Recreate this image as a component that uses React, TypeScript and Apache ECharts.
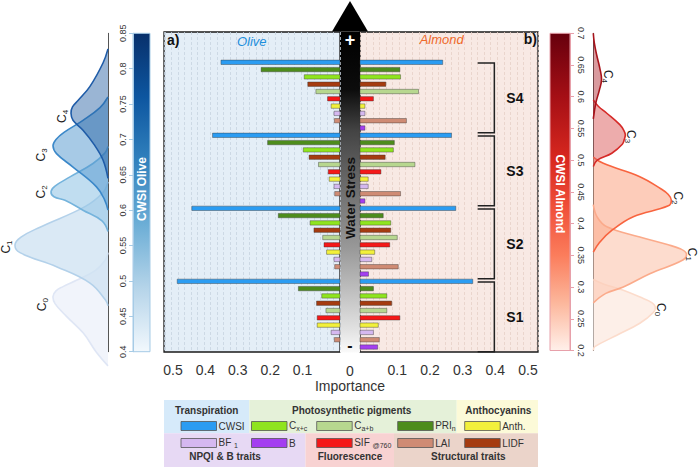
import React, { useEffect, useRef } from 'react';
import * as echarts from 'echarts';

const FF = 'Liberation Sans, Arial, sans-serif';

// ---------- data ----------
const traits = ['CWSI', 'PRIn', 'Cx+c', 'LIDF', 'Ca+b', 'SIF@760', 'Anth.', 'BF1', 'LAI', 'B'];
const stages = ['S4', 'S3', 'S2', 'S1'];

const oliveS4 = [0.352, 0.228, 0.095, 0.084, 0.059, 0.023, 0.012, 0.003, 0.002, 0];
const oliveS3 = [0.378, 0.208, 0.098, 0.080, 0.051, 0.021, 0.018, 0.003, 0.001, 0];
const oliveS2 = [0.442, 0.175, 0.077, 0.065, 0.038, 0.034, 0.026, 0.003, 0.001, 0];
const oliveS1 = [0.487, 0.113, 0.041, 0.057, 0.028, 0.055, 0.055, 0.012, 0.002, 0];

const almondS4 = [0.239, 0.108, 0.110, 0.065, 0.165, 0.027, 0.001, 0.001, 0.128, 0.001];
const almondS3 = [0.266, 0.091, 0.088, 0.063, 0.154, 0.050, 0.011, 0.011, 0.110, 0.001];
const almondS2 = [0.279, 0.057, 0.080, 0.080, 0.100, 0.077, 0.031, 0.022, 0.103, 0.012];
const almondS1 = [0.331, 0.027, 0.068, 0.083, 0.068, 0.108, 0.042, 0.027, 0.045, 0.040];

const oliveImportance = [oliveS4, oliveS3, oliveS2, oliveS1];
const almondImportance = [almondS4, almondS3, almondS2, almondS1];
const importanceTicks = [0.1, 0.2, 0.3, 0.4, 0.5];

const clusters = ['0', '1', '2', '3', '4'];
// [CWSI, density]
const oliveC0 = [[0.38, 0], [0.40, 2.4], [0.426, 4.9], [0.45, 8.3], [0.468, 10.6], [0.478, 11.0], [0.486, 10.4], [0.492, 9], [0.501, 6.3], [0.515, 2.5], [0.53, 0.5], [0.54, 0]];
const oliveC1 = [[0.465, 0], [0.473, 0.5], [0.497, 3.6], [0.52, 10.3], [0.54, 17.6], [0.551, 18.6], [0.562, 17.4], [0.576, 13.6], [0.605, 4.6], [0.625, 1], [0.64, 0]];
const oliveC2 = [[0.57, 0], [0.585, 1.2], [0.60, 5], [0.614, 8.6], [0.619, 10.8], [0.626, 11.4], [0.634, 10.6], [0.647, 7.6], [0.666, 3], [0.681, 0.6], [0.69, 0]];
const oliveC3 = [[0.60, 0], [0.615, 0.7], [0.633, 2.3], [0.661, 7], [0.68, 10.3], [0.691, 11], [0.70, 10.4], [0.71, 8.8], [0.727, 5], [0.745, 1.6], [0.76, 0]];
const oliveC4 = [[0.645, 0], [0.671, 1], [0.693, 2.8], [0.713, 5], [0.727, 7.0], [0.737, 7.4], [0.746, 7.1], [0.755, 6], [0.775, 3.6], [0.808, 1], [0.828, 0]];

const almondC0 = [[0.20, 0], [0.206, 0.3], [0.224, 4.7], [0.243, 9.3], [0.26, 12], [0.269, 12.4], [0.276, 11.6], [0.282, 10], [0.295, 6], [0.305, 2], [0.312, 0]];
const almondC1 = [[0.275, 0], [0.29, 2.5], [0.30, 6], [0.321, 11.3], [0.343, 18], [0.353, 18.6], [0.36, 17.5], [0.367, 14.8], [0.379, 9.3], [0.395, 2.7], [0.41, 0.8], [0.43, 0]];
const almondC2 = [[0.355, 0], [0.37, 1.2], [0.39, 3.8], [0.411, 8], [0.428, 15], [0.437, 15.6], [0.446, 15], [0.455, 13.5], [0.474, 9.3], [0.495, 2], [0.505, 0]];
const almondC3 = [[0.49, 0], [0.50, 0.8], [0.511, 3.7], [0.525, 5.8], [0.533, 6.2], [0.54, 6.4], [0.547, 6.1], [0.556, 5.3], [0.574, 2.7], [0.585, 1], [0.595, 0]];
const almondC4 = [[0.565, 0], [0.59, 0.5], [0.61, 1.2], [0.627, 1.65], [0.645, 1.3], [0.665, 0.7], [0.685, 0.2], [0.70, 0]];

const oliveDensities = [oliveC0, oliveC1, oliveC2, oliveC3, oliveC4];
const almondDensities = [almondC0, almondC1, almondC2, almondC3, almondC4];

// ---------- styles ----------
const traitColors = ['#2b9cf2', '#4d8c1c', '#8fe41f', '#a53b10', '#b7d78f', '#f41818', '#f2f03c', '#d5b8f0', '#cf8b74', '#a43ff0'];
const traitLegendText = ['{m|CWSI}', '{m|PRI}{s|n}{z| }', '{m|C}{s|x+c}{z| }', '{m|LIDF}', '{m|C}{s|a+b}{z| }', '{m|SIF }{s|@760}{z| }', '{m|Anth.}', '{m|BF }{s|1}{z| }', '{m|LAI}', '{m|B}'];
const oliveFill = ['rgba(236,240,250,0.75)', 'rgba(205,225,241,0.75)', 'rgba(150,198,230,0.6)', 'rgba(80,150,205,0.5)', 'rgba(30,90,160,0.45)'];
const oliveStroke = ['#dfe6f5', '#b3d1ea', '#74b3dc', '#3b88c9', '#1f5ca8'];
const almondFill = ['rgba(253,235,226,0.8)', 'rgba(252,205,185,0.7)', 'rgba(251,170,140,0.6)', 'rgba(220,90,90,0.5)', 'rgba(170,30,40,0.45)'];
const almondStroke = ['#fcdccc', '#fbab8b', '#f8643f', '#d62a28', '#a8131b'];
const oliveLabelOff = [[-10, 8], [-8, 2], [-9, 0], [-11, 9], [-8, 3]];
const almondLabelOff = [[5, 3], [5, 1], [6, -2], [5, 2], [6, -3]];

const subRich = (size: number, color = '#222') => ({
  m: { fontSize: size, lineHeight: size, verticalAlign: 'top', fontFamily: FF, fill: color, color },
  s: { fontSize: Math.round(size * 0.7), lineHeight: 3, verticalAlign: 'bottom', fontFamily: FF, fill: color, color },
  z: { fontSize: 1, lineHeight: size + 1.5, fontFamily: FF, fill: color, color },
});

function barSeries(values: number[][], gridIdx: number, side: 'left' | 'right') {
  const data: number[][] = [];
  values.forEach((grp, g) => grp.forEach((v, t) => data.push([v, g * 10 + t, t])));
  return {
    type: 'custom',
    xAxisIndex: gridIdx === 0 ? 0 : 2,
    yAxisIndex: gridIdx,
    data,
    encode: { x: 0, y: 1 },
    renderItem: (params: any, api: any) => {
      const v = api.value(0);
      const r = api.value(1);
      const t = api.value(2);
      if (!(v > 0)) return null;
      const cs = params.coordSys;
      const end = api.coord([v, r]);
      const edge = side === 'left' ? cs.x + cs.width : cs.x;
      const h = api.size([0, 1])[1] * 0.6;
      return {
        type: 'rect',
        shape: { x: Math.min(edge, end[0]), y: end[1] - h / 2, width: Math.abs(end[0] - edge), height: h },
        style: { fill: traitColors[t], stroke: 'rgba(50,50,50,0.5)', lineWidth: 0.8 },
      };
    },
  };
}

function densitySeries(pts: number[][], k: number, xIdx: number, yIdx: number, fill: string, stroke: string, off: number[], rot: number) {
  return {
    type: 'custom',
    xAxisIndex: xIdx,
    yAxisIndex: yIdx,
    data: pts,
    encode: { x: 1, y: 0 },
    renderItem: (params: any, api: any) => {
      if (params.dataIndex !== 0) return null;
      const P = pts.map((p) => api.coord([p[1], p[0]]));
      const pk = pts.reduce((a, b) => (b[1] > a[1] ? b : a));
      const pc = api.coord([pk[1], pk[0]]);
      return {
        type: 'group',
        children: [
          { type: 'polyline', shape: { points: P, smooth: 0.4 }, style: { fill, stroke, lineWidth: 1.6 } },
          {
            type: 'text',
            x: pc[0] + off[0],
            y: pc[1] + off[1],
            rotation: rot,
            style: { text: `{m|C}{s|${clusters[k]}}{z| }`, rich: subRich(12), align: 'center', verticalAlign: 'middle', textAlign: 'center', textVerticalAlign: 'middle' },
          },
        ],
      };
    },
  };
}

const bracketX = [0.346, 0.397];
const stageLabelX = 0.46;

function bracketSeries() {
  return {
    type: 'custom',
    xAxisIndex: 2,
    yAxisIndex: 1,
    data: stages.map((_, g) => [0.37, g * 10 + 5]),
    renderItem: (params: any, api: any) => {
      const g = params.dataIndex;
      const top = g * 10 + 0.08;
      const bot = g * 10 + 9.66;
      const a = api.coord([bracketX[0], top]);
      const b = api.coord([bracketX[1], top]);
      const c = api.coord([bracketX[1], bot]);
      const d = api.coord([bracketX[0], bot]);
      const m = api.coord([stageLabelX, (top + bot) / 2]);
      return {
        type: 'group',
        children: [
          { type: 'polyline', shape: { points: [a, b, c, d] }, style: { stroke: '#222', lineWidth: 1.5, fill: 'none' } },
          {
            type: 'text', x: m[0], y: m[1],
            style: { text: stages[g], fontSize: 14, fontWeight: 'bold', fontFamily: FF, fill: '#111', align: 'center', verticalAlign: 'middle', textAlign: 'center', textVerticalAlign: 'middle' },
          },
        ],
      };
    },
  };
}

function txt(x: number, y: number, text: string, o: any = {}) {
  return {
    type: 'text', x, y, rotation: o.rotation || 0, z: 20,
    style: {
      text, fill: o.color || '#222', fontSize: o.size || 12, fontWeight: o.weight || 'normal', fontStyle: o.fstyle || 'normal',
      fontFamily: FF, align: o.align || 'center', verticalAlign: 'middle', textAlign: o.align || 'center', textVerticalAlign: 'middle',
      rich: o.rich,
    },
  };
}

function grad(stops: [number, string][]) {
  return { type: 'linear', x: 0, y: 0, x2: 0, y2: 1, colorStops: stops.map(([offset, color]) => ({ offset, color })) };
}

// legend layout
const legendBoxes = [
  { title: 'Transpiration', bg: '#d6eafa', x0: 164, x1: 249.3, y0: 400, y1: 433.3, tx: 206.7, ty: 410.5 },
  { title: 'Photosynthetic pigments', bg: '#e5f1d9', x0: 249.3, x1: 456.7, y0: 400, y1: 433.3, tx: 351.7, ty: 410.5 },
  { title: 'Anthocyanins', bg: '#fcfad8', x0: 456.7, x1: 538, y0: 400, y1: 433.3, tx: 498.3, ty: 410.5 },
  { title: 'NPQI & B traits', bg: '#e7d9f4', x0: 164, x1: 305.5, y0: 433.3, y1: 467, tx: 225, ty: 456 },
  { title: 'Fluorescence', bg: '#f8d2d2', x0: 305.5, x1: 394, y0: 433.3, y1: 467, tx: 350, ty: 456 },
  { title: 'Structural traits', bg: '#ebd4ca', x0: 394, x1: 538, y0: 433.3, y1: 467, tx: 468.3, ty: 456 },
];
const legendRows = [[0, 2, 4, 1, 6], [7, 9, 5, 8, 3]];
const legendCols = [181, 251.5, 316.7, 397.7, 464.7];
const legendRowY = [426, 443];

function buildGraphic() {
  const els: any[] = [];
  // arrow & center bar
  els.push({ type: 'polygon', shape: { points: [[332, 31.5], [368, 31.5], [350, 1]] }, style: { fill: '#000' } });
  els.push({
    type: 'rect', shape: { x: 340, y: 31.5, width: 20, height: 321 },
    style: { fill: grad([[0, '#000'], [0.18, '#0c0c0c'], [0.31, '#444'], [0.68, '#9a9a9a'], [0.93, '#e2e2e2'], [1, '#fafafa']]) },
  });
  els.push(txt(350, 40, '+', { color: '#fff', size: 18, weight: 'bold' }));
  els.push(txt(350, 345, '-', { color: '#111', size: 16, weight: 'bold' }));
  els.push(txt(350, 198, 'Water Stress', { color: '#111', size: 13.5, weight: 'bold', rotation: Math.PI / 2 }));
  // panel titles
  els.push(txt(167, 40, 'a)', { size: 14, weight: 'bold', align: 'left', color: '#111' }));
  els.push(txt(251.7, 41.5, 'Olive', { size: 13, fstyle: 'italic', color: '#1e8fdc' }));
  els.push(txt(441.7, 39, 'Almond', { size: 13, fstyle: 'italic', color: '#ef6a2c' }));
  els.push(txt(537, 39, 'b)', { size: 14, weight: 'bold', align: 'right', color: '#111' }));
  els.push(txt(350, 370.5, '0', { size: 14, color: '#333' }));
  els.push(txt(350, 386, 'Importance', { size: 14, color: '#333' }));
  // colorbars
  els.push({
    type: 'rect', shape: { x: 133, y: 33.3, width: 17, height: 318.4 },
    style: { fill: grad([[0, '#08306b'], [0.2, '#0d56a0'], [0.4, '#3181bd'], [0.6, '#6caed6'], [0.8, '#b5d4e9'], [1, '#f2f8fd']]), stroke: '#a6cbe6', lineWidth: 1 },
  });
  els.push(txt(142, 189, 'CWSI Olive', { color: '#fff', size: 12, weight: 'bold', rotation: Math.PI / 2 }));
  els.push({
    type: 'rect', shape: { x: 550, y: 33.3, width: 20, height: 317.2 },
    style: { fill: grad([[0, '#67000d'], [0.2, '#a50f15'], [0.4, '#d9281f'], [0.55, '#f0503a'], [0.7, '#fb7d5c'], [0.85, '#fcb79c'], [1, '#fff0ea']]), stroke: '#e7a0aa', lineWidth: 1 },
  });
  els.push(txt(560, 194, 'CWSI Almond', { color: '#fff', size: 12, weight: 'bold', rotation: -Math.PI / 2 }));
  // legend
  legendBoxes.forEach((b) => {
    els.push({ type: 'rect', shape: { x: b.x0, y: b.y0, width: b.x1 - b.x0, height: b.y1 - b.y0 }, style: { fill: b.bg } });
    els.push(txt(b.tx, b.ty, b.title, { size: 10, weight: 'bold', color: '#333' }));
  });
  legendRows.forEach((row, ri) => {
    row.forEach((t, ci) => {
      const x = legendCols[ci];
      const cy = legendRowY[ri];
      els.push({ type: 'rect', shape: { x, y: cy - 4.5, width: 35.5, height: 9 }, style: { fill: traitColors[t], stroke: '#555', lineWidth: 0.8 }, z: 15 });
      els.push(txt(x + 37.5, cy, traitLegendText[t], { align: 'left', rich: subRich(10, '#333') }));
    });
  });
  return els;
}

function buildOption() {
  const hidden = { show: false };
  const gridLineAxis = (gridIndex: number, max: number, inverse: boolean, color: string) => ({
    gridIndex, type: 'value', position: 'top', inverse, min: 0, max, interval: 0.02,
    axisLine: hidden, axisTick: hidden, axisLabel: hidden,
    splitLine: { show: true, lineStyle: { color, type: [3, 2], width: 0.8 } },
  });
  const importanceAxis = (gridIndex: number, min: number, max: number, inverse: boolean) => ({
    gridIndex, type: 'value', inverse, min, max,
    axisLine: hidden, axisTick: hidden, splitLine: hidden,
    axisLabel: { customValues: importanceTicks, fontSize: 14, color: '#333', margin: 11, fontFamily: FF },
  });
  const rowAxis = (gridIndex: number) => ({
    gridIndex, type: 'value', inverse: true, min: -4.15, max: 39.68, show: false,
  });
  const series: any[] = [
    barSeries(oliveImportance, 0, 'left'),
    barSeries(almondImportance, 1, 'right'),
    bracketSeries(),
  ];
  oliveDensities.forEach((pts, k) => series.push(densitySeries(pts, k, 4, 2, oliveFill[k], oliveStroke[k], oliveLabelOff[k], Math.PI / 2)));
  almondDensities.forEach((pts, k) => series.push(densitySeries(pts, k, 7, 5, almondFill[k], almondStroke[k], almondLabelOff[k], -Math.PI / 2)));

  return {
    animation: false,
    textStyle: { fontFamily: FF },
    grid: [
      { left: 164, top: 32, width: 176, height: 320, show: true, backgroundColor: '#e4eef7', borderColor: '#1a1a1a', borderWidth: 1.3 },
      { left: 360, top: 32, width: 178, height: 320, show: true, backgroundColor: '#f8e9e4', borderColor: '#1a1a1a', borderWidth: 1.3 },
      { left: 0, top: 33.3, width: 108, height: 318.4 },
      { left: 133, top: 33.3, width: 17, height: 318.4 },
      { left: 550, top: 33.3, width: 20, height: 317.2 },
      { left: 593.3, top: 33.3, width: 106.7, height: 317.2 },
    ],
    xAxis: [
      importanceAxis(0, -0.01543, 0.5278, true),
      gridLineAxis(0, 0.5432, true, '#c6d3df'),
      importanceAxis(1, -0.01408, 0.5306, false),
      gridLineAxis(1, 0.5447, false, '#e6cfc7'),
      { gridIndex: 2, type: 'value', inverse: true, min: 0, max: 21.6, show: false },
      { gridIndex: 3, type: 'value', min: 0, max: 1, show: false },
      { gridIndex: 4, type: 'value', min: 0, max: 1, show: false },
      { gridIndex: 5, type: 'value', min: 0, max: 21.34, show: false },
    ],
    yAxis: [
      rowAxis(0),
      rowAxis(1),
      {
        gridIndex: 2, type: 'value', min: 0.4, max: 0.85, position: 'right',
        axisLine: { show: true, onZero: false, lineStyle: { color: '#555', width: 1 } }, axisTick: hidden, axisLabel: hidden, splitLine: hidden,
      },
      {
        gridIndex: 3, type: 'value', min: 0.4, max: 0.85, interval: 0.05, position: 'left',
        axisLine: { show: true, onZero: false, lineStyle: { color: '#a6cbe6' } },
        axisTick: { show: true, length: 4, lineStyle: { color: '#a6cbe6' } },
        axisLabel: { rotate: 90, fontSize: 9, color: '#333', margin: 6, fontFamily: FF },
        splitLine: hidden,
      },
      {
        gridIndex: 4, type: 'value', min: 0.2, max: 0.7, interval: 0.05, position: 'right',
        axisLine: { show: true, onZero: false, lineStyle: { color: '#e7a0aa' } },
        axisTick: { show: true, length: 4, lineStyle: { color: '#e7a0aa' } },
        axisLabel: { rotate: -90, fontSize: 9, color: '#333', margin: 6, fontFamily: FF },
        splitLine: hidden,
      },
      {
        gridIndex: 5, type: 'value', min: 0.2, max: 0.7, position: 'left',
        axisLine: { show: true, onZero: false, lineStyle: { color: '#555', width: 1 } }, axisTick: hidden, axisLabel: hidden, splitLine: hidden,
      },
    ],
    graphic: { elements: buildGraphic() },
    series,
  };
}

export default function App() {
  const ref = useRef<HTMLDivElement>(null);
  useEffect(() => {
    if (!ref.current) return;
    const chart = echarts.init(ref.current, undefined, { renderer: 'svg' });
    chart.setOption(buildOption() as any);
    return () => chart.dispose();
  }, []);
  return <div ref={ref} style={{ position: 'fixed', left: 0, top: 0, width: 700, height: 467, background: '#fff' }} />;
}
